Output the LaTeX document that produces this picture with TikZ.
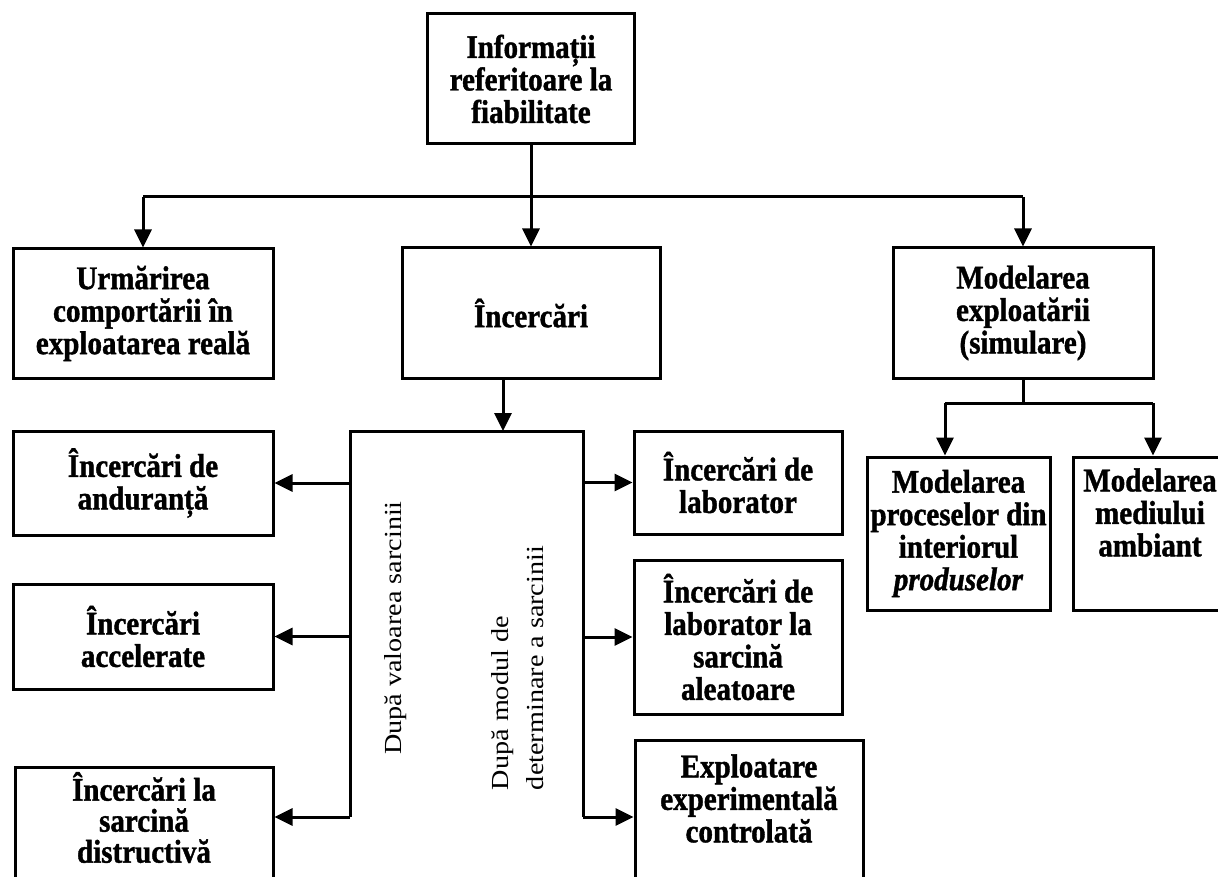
\documentclass[tikz,border=0pt]{standalone}
\usepackage{fontspec}
\setmainfont{Liberation Serif}[FakeStretch=0.88, BoldFeatures={FakeBold=1.2}, BoldItalicFeatures={FakeBold=1.2}]
\newfontfamily\rotfont{Liberation Serif}[FakeStretch=1.15]
\usetikzlibrary{arrows.meta}
\tikzset{
  box/.style={draw, line width=3pt, align=center, inner sep=0pt,
    font=\fontsize{33}{32.5}\selectfont\bfseries},
  arr/.style={-{Triangle[length=18pt,width=17pt]}, line width=3pt},
  link/.style={line width=3pt},
  sidelabel/.style={rotate=90, align=left, inner sep=0pt,
    font=\rotfont\fontsize{24.5}{35}\selectfont}
}
\begin{document}
\begin{tikzpicture}[x=1pt,y=-1pt]
\useasboundingbox (0,0) rectangle (1218,877);
\fill[white] (0,0) rectangle (1218,877);
\clip (0,0) rectangle (1218,877);

% top level
\node[box, minimum width=207pt, minimum height=130pt] (info) at (531,79)
  {Informații\\referitoare la\\fiabilitate};

\node[box, minimum width=260pt, minimum height=129pt] (urm) at (143,313.5)
  {Urmărirea\\comportării în\\exploatarea reală};
\node[box, minimum width=258pt, minimum height=130pt] (inc) at (531,313)
  {Încercări};
\node[box, minimum width=260pt, minimum height=130pt] (mod) at (1023,313)
  {Modelarea\\exploatării\\(simulare)};

% distribution bus below the top box
\coordinate (busL) at (143,197);
\coordinate (busR) at (1023,197);
\draw[link] (info.south) -- (info.south |- busL);
\draw[link] (busL) -- (busR);
\draw[arr] (busL) -- (urm.north);
\draw[arr] (info.south |- busL) -- (inc.north);
\draw[arr] (busR) -- (mod.north);

% open bracket grouping the kinds of tests
\coordinate (brTL) at (350,431);
\coordinate (brTR) at (583,431);
\coordinate (brBL) at (350,817);
\coordinate (brBR) at (583,817);
\coordinate (brIn) at (503,431);
\draw[link] (brBL) -- (brTL) -- (brTR) -- (brBR);
\draw[arr] (inc.south -| brIn) -- (brIn);

\node[sidelabel] (valoare) at (396,628) {După valoarea sarcinii};
\node[sidelabel] (modul) at (518,668) {După modul de\\determinare a sarcinii};

% left column
\node[box, minimum width=260pt, minimum height=104pt] (and) at (143,483)
  {Încercări de\\anduranță};
\node[box, minimum width=260pt, minimum height=105pt] (acc) at (143,636.5)
  {Încercări\\accelerate};
\node[box, minimum width=258pt, minimum height=141pt,
      font=\fontsize{33}{31}\selectfont\bfseries] (dis) at (144,837.5)
  {Încercări la\\sarcină\\distructivă\\\strut};

\draw[arr] (and.east -| brTL) -- (and.east);
\draw[arr] (acc.east -| brTL) -- (acc.east);
\draw[arr] (brBL) -- (brBL -| dis.east);

% right column
\node[box, minimum width=208pt, minimum height=103pt] (lab) at (738,482.5)
  {Încercări de\\laborator};
\node[box, minimum width=208pt, minimum height=154pt] (ale) at (738,637)
  {Încercări de\\laborator la\\sarcină\\aleatoare};
\node[box, minimum width=228pt, minimum height=159pt] (exp) at (749,819.5)
  {Exploatare\\experimentală\\controlată\\\strut};

\draw[arr] (lab.west -| brTR) -- (lab.west);
\draw[arr] (ale.west -| brTR) -- (ale.west);
\draw[arr] (brBR) -- (brBR -| exp.west);

% simulation branch
\node[box, minimum width=183pt, minimum height=153pt] (proc) at (958.5,533.5)
  {Modelarea\\proceselor din\\interiorul\\\textit{produselor}};
\node[box, minimum width=154pt, minimum height=153pt] (med) at (1150,533.5)
  {Modelarea\\mediului\\ambiant\\\strut};

\coordinate (sbL) at (945,403);
\coordinate (sbR) at (1153,403);
\draw[link] (mod.south) -- (mod.south |- sbL);
\draw[link] (sbL) -- (sbR);
\draw[arr] (sbL) -- (sbL |- proc.north);
\draw[arr] (sbR) -- (sbR |- med.north);
\end{tikzpicture}
\end{document}
